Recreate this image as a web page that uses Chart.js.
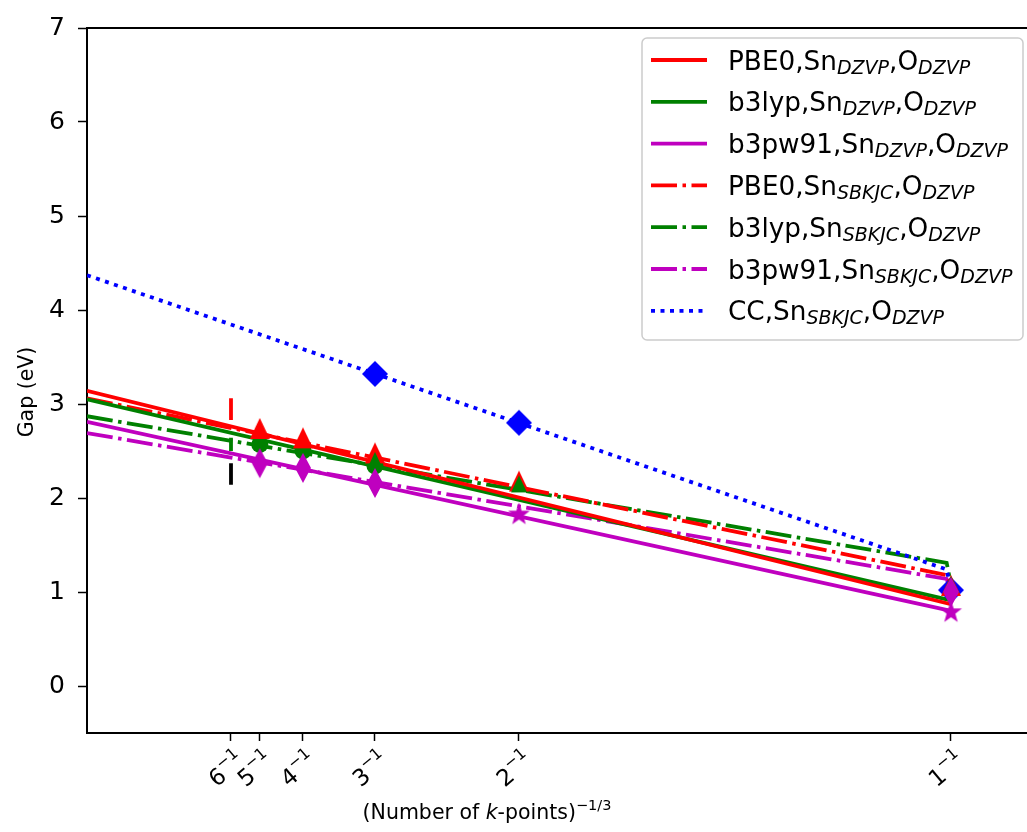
<!DOCTYPE html>
<html>
<head>
<meta charset="utf-8">
<script src="https://cdn.jsdelivr.net/npm/chart.js@4/dist/chart.umd.min.js"></script>
<style>
  html, body { margin: 0; padding: 0; background: #fff; }
  canvas { display: block; }
</style>
</head>
<body>
<canvas id="chart" width="1027" height="832"></canvas>
<script>
const FONT = '"DejaVu Sans", sans-serif';

// x axis: (number of k-points)^(-1/3)
const xTicks = [1/6, 1/5, 1/4, 1/3, 1/2, 1];
const xTickBase = ['6', '5', '4', '3', '2', '1'];
const yTicks = [0, 1, 2, 3, 4, 5, 6, 7];

// legend text pieces
const funcs = ['PBE0', 'b3lyp', 'b3pw91', 'PBE0', 'b3lyp', 'b3pw91', 'CC'];
const snBasis = ['DZVP', 'DZVP', 'DZVP', 'SBKJC', 'SBKJC', 'SBKJC', 'SBKJC'];
const oBasis = ['DZVP', 'DZVP', 'DZVP', 'DZVP', 'DZVP', 'DZVP', 'DZVP'];

// extrapolated lines
const fitX = [0, 1];
const pbe0DzvpFit = [3.14, 0.87];
const b3lypDzvpFit = [3.05, 0.91];
const b3pw91DzvpFit = [2.81, 0.80];
const hookX = [0, 0.995, 1];
const pbe0SbkjcFit = [3.06, 1.18, 1.07];
const b3lypSbkjcFit = [2.87, 1.31, 1.08];
const b3pw91SbkjcFit = [2.69, 1.14, 1.00];
const ccFit = [4.37, 1.24, 1.02];

// computed gaps
const dzvpX = [1/5, 1/4, 1/3];
const pbe0DzvpPts = [2.74, 2.64, 2.48];
const b3lypDzvpPts = [2.57, 2.50, 2.34];
const b3pw91DzvpX = [1/5, 1/4, 1/3, 1];
const b3pw91DzvpPts = [2.37, 2.32, 2.16, 1.00];
const pbe0SbkjcX = [1/2, 1];
const pbe0SbkjcPts = [2.18, 1.07];
const b3lypSbkjcX = [1/3, 1/2, 1];
const b3lypSbkjcPts = [2.40, 2.15, 1.08];
const b3pw91SbkjcX = [1/2, 1];
const b3pw91SbkjcPts = [1.83, 0.79];
const ccX = [1/3, 1/2, 1];
const ccPts = [3.32, 2.80, 1.02];

// short vertical marks at 6^-1
const cutX = 1/6;
const cutTop = [3.06, 2.64, 2.37];
const cutBottom = [2.83, 2.50, 2.14];

const RED = '#ff0000', GREEN = '#008000', MAG = '#bf00bf', BLUE = '#0000ff';
const DASHDOT = [26, 5.5, 3.5, 5.5];
const DOTTED = [4, 5.5];
const LW = 3.8;

const pts = (xs, ys) => xs.map((x, i) => ({ x: x, y: ys[i] }));

function polyMarker(w, h, color, shape) {
  const c = document.createElement('canvas');
  c.width = w + 2; c.height = h + 2;
  const g = c.getContext('2d');
  g.fillStyle = color;
  g.beginPath();
  shape.forEach(([px, py], i) => {
    const x = c.width / 2 + px * w / 2, y = c.height / 2 + py * h / 2;
    if (i) g.lineTo(x, y); else g.moveTo(x, y);
  });
  g.closePath();
  g.fill();
  return c;
}
const TRI = [[0, -1], [1, 1], [-1, 1]];
const DIAM = [[0, -1], [1, 0], [0, 1], [-1, 0]];
const STAR = [];
for (let i = 0; i < 10; i++) {
  const a = -Math.PI / 2 + i * Math.PI / 5, r = i % 2 ? 0.4 : 1;
  STAR.push([Math.cos(a) * r, Math.sin(a) * r * 1.05 + 0.05]);
}

function lineSet(xs, ys, color, dash) {
  return { data: pts(xs, ys), showLine: true, borderColor: color, borderWidth: LW,
    borderDash: dash || [], borderCapStyle: 'butt', pointRadius: 0, tension: 0, fill: false };
}
function markSet(xs, ys, style, r) {
  return { data: pts(xs, ys), showLine: false, pointStyle: style, pointRadius: r,
    pointBackgroundColor: BLUE, pointBorderWidth: 0 };
}

// drawn bottom to top
const datasets = [
  lineSet(hookX, b3pw91SbkjcFit, MAG, DASHDOT),
  lineSet(hookX, b3lypSbkjcFit, GREEN, DASHDOT),
  lineSet(hookX, pbe0SbkjcFit, RED, DASHDOT),
  lineSet(fitX, b3pw91DzvpFit, MAG),
  lineSet(fitX, b3lypDzvpFit, GREEN),
  lineSet(fitX, pbe0DzvpFit, RED),
  lineSet(hookX, ccFit, BLUE, DOTTED),
  lineSet([cutX, cutX], [cutTop[0], cutBottom[0]], RED),
  lineSet([cutX, cutX], [cutTop[1], cutBottom[1]], GREEN),
  lineSet([cutX, cutX], [cutTop[2], cutBottom[2]], '#000'),
  markSet(ccX, ccPts, polyMarker(26, 26, BLUE, DIAM), 12),
  Object.assign(markSet(dzvpX, b3lypDzvpPts, 'circle', 8.5), { pointBackgroundColor: GREEN }),
  markSet(dzvpX, pbe0DzvpPts, polyMarker(20, 21, RED, TRI), 10),
  markSet(pbe0SbkjcX, pbe0SbkjcPts, polyMarker(20, 21, RED, TRI), 10),
  markSet(b3lypSbkjcX, b3lypSbkjcPts, polyMarker(16, 17, GREEN, TRI), 8),
  markSet(b3pw91DzvpX, b3pw91DzvpPts, polyMarker(16, 30, MAG, DIAM), 10),
  markSet(b3pw91SbkjcX, b3pw91SbkjcPts, polyMarker(23, 23, MAG, STAR), 10)
];
datasets.forEach((d, i) => { d.order = datasets.length - i; });

const legendStyles = [
  [RED, []], [GREEN, []], [MAG, []],
  [RED, DASHDOT], [GREEN, DASHDOT], [MAG, DASHDOT], [BLUE, DOTTED]
];

function richWidth(ctx, parts) {
  let w = 0;
  parts.forEach(([t, font]) => { ctx.font = font; w += ctx.measureText(t).width; });
  return w;
}
function drawRich(ctx, parts, x, y) {
  parts.forEach(([t, font, dy]) => {
    ctx.font = font;
    ctx.fillText(t, x, y + dy);
    x += ctx.measureText(t).width;
  });
}

const decor = {
  id: 'decor',
  afterDraw(chart) {
    const { ctx, chartArea: a } = chart;
    const xs = chart.scales.x;
    ctx.save();
    ctx.strokeStyle = '#000';
    ctx.lineWidth = 2;
    ctx.beginPath();
    ctx.moveTo(a.left - 1, a.top);
    ctx.lineTo(a.right, a.top);
    ctx.stroke();

    ctx.fillStyle = '#000';
    ctx.textAlign = 'left';
    ctx.textBaseline = 'alphabetic';

    // rotated x tick labels
    const tickFont = `23px ${FONT}`, supFont = `16px ${FONT}`;
    xTicks.forEach((v, i) => {
      const parts = [[xTickBase[i], tickFont, 7], ['\u22121', supFont, -4]];
      const w = richWidth(ctx, parts);
      ctx.save();
      ctx.translate(xs.getPixelForValue(v) - 4, 770);
      ctx.rotate(-40 * Math.PI / 180);
      drawRich(ctx, parts, -w / 2, 0);
      ctx.restore();
    });

    // x title
    const xt = [
      ['(Number of ', `20.5px ${FONT}`, 0],
      ['k', `italic 20.5px ${FONT}`, 0],
      ['-points)', `20.5px ${FONT}`, 0],
      ['\u22121/3', `14.5px ${FONT}`, -9]
    ];
    drawRich(ctx, xt, 487 - richWidth(ctx, xt) / 2, 819);

    // y title
    ctx.save();
    ctx.translate(28, 392);
    ctx.rotate(-Math.PI / 2);
    ctx.font = `20.5px ${FONT}`;
    ctx.textAlign = 'center';
    ctx.textBaseline = 'middle';
    ctx.fillText('Gap (eV)', 0, 0);
    ctx.restore();

    // legend
    const bx = 642, by = 38, bw = 381, bh = 302;
    ctx.beginPath();
    ctx.roundRect(bx, by, bw, bh, 5);
    ctx.fillStyle = 'rgba(255,255,255,0.8)';
    ctx.fill();
    ctx.strokeStyle = '#cccccc';
    ctx.lineWidth = 1.5;
    ctx.stroke();
    funcs.forEach((f, i) => {
      const ry = 60 + i * 41.8;
      const [col, dash] = legendStyles[i];
      ctx.strokeStyle = col;
      ctx.lineWidth = LW;
      ctx.lineCap = 'butt';
      ctx.setLineDash(dash);
      ctx.beginPath();
      ctx.moveTo(651, ry);
      ctx.lineTo(707, ry);
      ctx.stroke();
      ctx.setLineDash([]);
      ctx.fillStyle = '#000';
      const base = `26.3px ${FONT}`, sub = `italic 19px ${FONT}`;
      drawRich(ctx, [
        [f + ',Sn', base, 0], [snBasis[i], sub, 4],
        [',O', base, 0], [oBasis[i], sub, 4]
      ], 728, ry + 9.5);
    });
    ctx.restore();
  }
};

const axisGrid = (len) => ({
  drawOnChartArea: false, drawTicks: true, tickLength: len,
  tickWidth: 1.5, tickColor: '#000', color: '#000'
});

new Chart(document.getElementById('chart'), {
  type: 'scatter',
  data: { datasets: datasets },
  options: {
    responsive: false,
    animation: false,
    layout: { autoPadding: false, padding: { top: 25, right: 0, left: 0, bottom: 0 } },
    plugins: { legend: { display: false }, tooltip: { enabled: false } },
    scales: {
      x: {
        type: 'linear', min: 0, max: 1.088,
        afterBuildTicks: s => { s.ticks = xTicks.map(v => ({ value: v })); },
        afterFit: s => { s.height = 99; },
        ticks: { display: false },
        grid: axisGrid(8),
        border: { display: true, color: '#000', width: 2 }
      },
      y: {
        min: -0.5, max: 7,
        afterBuildTicks: s => { s.ticks = yTicks.map(v => ({ value: v })); },
        afterFit: s => { s.width = 87; },
        ticks: { font: { family: FONT, size: 25 }, color: '#000', padding: 13 },
        grid: axisGrid(9),
        border: { display: true, color: '#000', width: 2 }
      }
    }
  },
  plugins: [decor]
});
</script>
</body>
</html>
